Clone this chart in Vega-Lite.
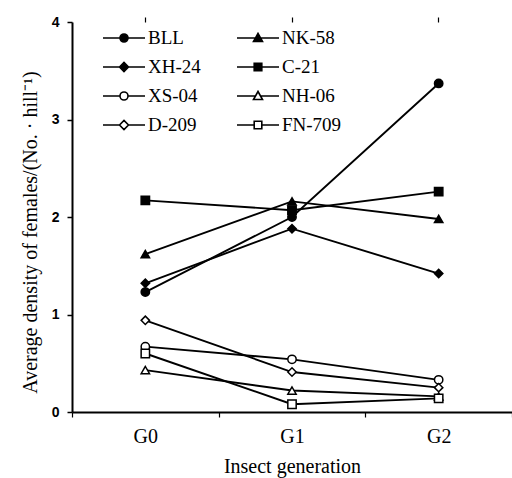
{
  "$schema": "https://vega.github.io/schema/vega-lite/v6.json",
  "autosize": "none",
  "width": 440,
  "height": 390,
  "padding": {"left": 72, "top": 22, "right": 0, "bottom": 66},
  "background": "white",
  "config": {
    "view": {"stroke": null},
    "font": "Liberation Serif"
  },
  "data": {
    "values": [
      {"strain": "BLL", "gen": "G0", "density": 1.23},
      {"strain": "BLL", "gen": "G1", "density": 2.0},
      {"strain": "BLL", "gen": "G2", "density": 3.37},
      {"strain": "NK-58", "gen": "G0", "density": 1.62},
      {"strain": "NK-58", "gen": "G1", "density": 2.16},
      {"strain": "NK-58", "gen": "G2", "density": 1.98},
      {"strain": "XH-24", "gen": "G0", "density": 1.32},
      {"strain": "XH-24", "gen": "G1", "density": 1.88},
      {"strain": "XH-24", "gen": "G2", "density": 1.42},
      {"strain": "C-21", "gen": "G0", "density": 2.17},
      {"strain": "C-21", "gen": "G1", "density": 2.07},
      {"strain": "C-21", "gen": "G2", "density": 2.26},
      {"strain": "XS-04", "gen": "G0", "density": 0.67},
      {"strain": "XS-04", "gen": "G1", "density": 0.54},
      {"strain": "XS-04", "gen": "G2", "density": 0.33},
      {"strain": "NH-06", "gen": "G0", "density": 0.43},
      {"strain": "NH-06", "gen": "G1", "density": 0.22},
      {"strain": "NH-06", "gen": "G2", "density": 0.16},
      {"strain": "D-209", "gen": "G0", "density": 0.94},
      {"strain": "D-209", "gen": "G1", "density": 0.41},
      {"strain": "D-209", "gen": "G2", "density": 0.25},
      {"strain": "FN-709", "gen": "G0", "density": 0.6},
      {"strain": "FN-709", "gen": "G1", "density": 0.08},
      {"strain": "FN-709", "gen": "G2", "density": 0.14}
    ]
  },
  "resolve": {"axis": {"x": "independent"}},
  "layer": [
    {
      "mark": {"type": "line", "color": "black", "strokeWidth": 1.9},
      "encoding": {
        "x": {
          "field": "gen", "type": "nominal",
          "scale": {"type": "band", "domain": ["G0", "G1", "G2"], "paddingInner": 0, "paddingOuter": 0},
          "axis": {
            "title": "Insect generation",
            "titleFont": "Liberation Serif", "titleFontSize": 20, "titleFontWeight": "normal", "titleColor": "black",
            "titlePadding": 10,
            "labelFont": "Liberation Serif", "labelFontSize": 20, "labelColor": "black", "labelAngle": 0,
            "labelPadding": 9,
            "domainColor": "black", "domainWidth": 2,
            "tickBand": "extent",
            "tickColor": "black", "tickSize": 5, "tickWidth": 1.2,
            "encode": {"ticks": {"update": {"y": {"value": 0}, "y2": {"value": -5}}}},
            "grid": false
          }
        },
        "y": {
          "field": "density", "type": "quantitative",
          "scale": {"domain": [0, 4], "nice": false},
          "axis": {
            "title": "Average density of females/(No. · hill⁻¹)",
            "titleFont": "Liberation Serif", "titleFontSize": 20, "titleFontWeight": "normal", "titleColor": "black",
            "titlePadding": 11,
            "titleY": 210,
            "values": [0, 1, 2, 3, 4],
            "format": "d",
            "labelFont": "Liberation Sans", "labelFontSize": 14, "labelFontWeight": "bold", "labelColor": "black",
            "labelPadding": 8,
            "domainColor": "black", "domainWidth": 2,
            "tickColor": "black", "tickSize": 5, "tickWidth": 1.5,
            "grid": false
          }
        },
        "detail": {"field": "strain"}
      }
    },
    {
      "transform": [{"filter": {"field": "strain", "oneOf": ["BLL", "XS-04"]}}],
      "mark": {"type": "point", "shape": "circle", "filled": true, "stroke": "black", "strokeWidth": 1.5, "opacity": 1, "size": 70},
      "encoding": {
        "x": {"field": "gen", "type": "nominal", "axis": {"title": null, "labels": false, "domain": false, "tickColor": "black", "tickSize": 5, "tickWidth": 1.2, "encode": {"ticks": {"update": {"y": {"value": 0}, "y2": {"value": -5}}}}, "grid": false}},
        "y": {"field": "density", "type": "quantitative"},
        "fill": {"condition": {"test": "indexof(['BLL','NK-58','XH-24','C-21'], datum.strain) >= 0", "value": "black"}, "value": "white"}
      }
    },
    {
      "transform": [{"filter": {"field": "strain", "oneOf": ["NK-58", "NH-06"]}}],
      "mark": {"type": "point", "shape": "triangle-up", "filled": true, "stroke": "black", "strokeWidth": 1.5, "opacity": 1, "size": 70},
      "encoding": {
        "x": {"field": "gen", "type": "nominal", "axis": null},
        "y": {"field": "density", "type": "quantitative"},
        "fill": {"condition": {"test": "indexof(['BLL','NK-58','XH-24','C-21'], datum.strain) >= 0", "value": "black"}, "value": "white"}
      }
    },
    {
      "transform": [{"filter": {"field": "strain", "oneOf": ["XH-24", "D-209"]}}],
      "mark": {"type": "point", "shape": "diamond", "filled": true, "stroke": "black", "strokeWidth": 1.5, "opacity": 1, "size": 70},
      "encoding": {
        "x": {"field": "gen", "type": "nominal", "axis": null},
        "y": {"field": "density", "type": "quantitative"},
        "fill": {"condition": {"test": "indexof(['BLL','NK-58','XH-24','C-21'], datum.strain) >= 0", "value": "black"}, "value": "white"}
      }
    },
    {
      "transform": [{"filter": {"field": "strain", "oneOf": ["C-21", "FN-709"]}}],
      "mark": {"type": "point", "shape": "square", "filled": true, "stroke": "black", "strokeWidth": 1.5, "opacity": 1, "size": 70},
      "encoding": {
        "x": {"field": "gen", "type": "nominal", "axis": null},
        "y": {"field": "density", "type": "quantitative"},
        "fill": {"condition": {"test": "indexof(['BLL','NK-58','XH-24','C-21'], datum.strain) >= 0", "value": "black"}, "value": "white"}
      }
    },
    {
      "mark": {"type": "point", "filled": true, "opacity": 0, "size": 10},
      "encoding": {
        "x": {"field": "gen", "type": "nominal", "axis": null},
        "y": {"field": "density", "type": "quantitative"},
        "shape": {
          "field": "strain", "type": "nominal",
          "scale": {
            "domain": ["BLL", "XH-24", "XS-04", "D-209", "NK-58", "C-21", "NH-06", "FN-709"],
            "range": [
              "M-2.1,0H-0.4M0.4,0H2.1M-0.4,0A0.4,0.4 0 1,0 0.4,0A0.4,0.4 0 1,0 -0.4,0Z",
              "M-2.1,0H-0.45M0.45,0H2.1M-0.45,0L0,-0.45L0.45,0L0,0.45Z",
              "M-2.1,0H-0.4M0.4,0H2.1M-0.4,0A0.4,0.4 0 1,0 0.4,0A0.4,0.4 0 1,0 -0.4,0Z",
              "M-2.1,0H-0.45M0.45,0H2.1M-0.45,0L0,-0.45L0.45,0L0,0.45Z",
              "M-2.1,0H-0.25M0.25,0H2.1M-0.45,0.35L0,-0.45L0.45,0.35Z",
              "M-2.1,0H-0.38M0.38,0H2.1M-0.38,-0.38H0.38V0.38H-0.38Z",
              "M-2.1,0H-0.25M0.25,0H2.1M-0.45,0.35L0,-0.45L0.45,0.35Z",
              "M-2.1,0H-0.38M0.38,0H2.1M-0.38,-0.38H0.38V0.38H-0.38Z"
            ]
          },
          "legend": {
            "title": null,
            "orient": "none",
            "legendX": 41,
            "legendY": 5,
            "direction": "vertical",
            "columns": 2,
            "columnPadding": 32,
            "rowPadding": 8,
            "symbolSize": 400,
            "symbolStrokeColor": "black",
            "symbolStrokeWidth": 1.6,
            "symbolOpacity": 1,
            "labelFont": "Liberation Serif",
            "labelFontSize": 19,
            "labelColor": "black",
            "labelOffset": 13,
            "encode": {"symbols": {"update": {"stroke": {"value": "black"}, "strokeWidth": {"value": 1.6}, "opacity": {"value": 1}, "strokeOpacity": {"value": 1}}}}
          }
        },
        "fill": {
          "field": "strain", "type": "nominal",
          "scale": {
            "domain": ["BLL", "XH-24", "XS-04", "D-209", "NK-58", "C-21", "NH-06", "FN-709"],
            "range": ["black", "black", "white", "white", "black", "black", "white", "white"]
          },
          "legend": {
            "title": null,
            "orient": "none",
            "legendX": 41,
            "legendY": 5,
            "direction": "vertical",
            "columns": 2,
            "columnPadding": 32,
            "rowPadding": 8,
            "symbolSize": 400,
            "symbolStrokeColor": "black",
            "symbolStrokeWidth": 1.6,
            "symbolOpacity": 1,
            "labelFont": "Liberation Serif",
            "labelFontSize": 19,
            "labelColor": "black",
            "labelOffset": 13,
            "encode": {"symbols": {"update": {"stroke": {"value": "black"}, "strokeWidth": {"value": 1.6}, "opacity": {"value": 1}, "strokeOpacity": {"value": 1}}}}
          }
        }
      }
    }
  ]
}
